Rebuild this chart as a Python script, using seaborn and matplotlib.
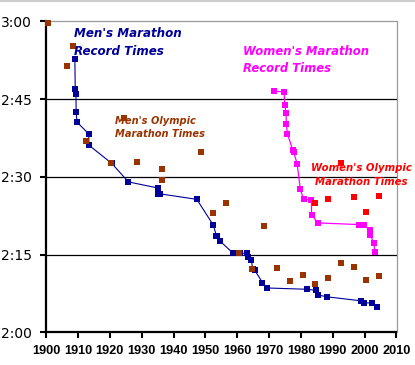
import matplotlib
matplotlib.use("Agg")
import matplotlib.pyplot as plt
import seaborn as sns
import pandas as pd
from matplotlib.ticker import FuncFormatter, MultipleLocator
from matplotlib.lines import Line2D

# ---------------- data (decimal year, h:mm:ss) ----------------
men_record_year = [1909.0, 1909.12, 1909.35, 1909.4, 1909.66, 1913.36, 1913.41,
                   1920.6, 1925.8, 1935.25, 1935.26, 1935.84, 1947.3, 1952.45,
                   1953.45, 1953.76, 1954.49, 1958.65, 1960.7, 1963.13, 1963.46,
                   1964.45, 1964.81, 1965.45, 1967.92, 1969.41, 1981.93, 1984.8,
                   1985.3, 1988.29, 1998.72, 1999.81, 2002.29, 2003.74]
men_record_time = ["2:52:45", "2:46:52", "2:46:04", "2:42:31", "2:40:34", "2:38:16",
                   "2:36:06", "2:32:35", "2:29:01", "2:27:49", "2:26:44", "2:26:42",
                   "2:25:39", "2:20:42", "2:18:40", "2:18:34", "2:17:39", "2:15:17",
                   "2:15:16", "2:15:15", "2:14:28", "2:13:55", "2:12:11", "2:12:00",
                   "2:09:36", "2:08:33", "2:08:18", "2:08:05", "2:07:12", "2:06:50",
                   "2:06:05", "2:05:42", "2:05:38", "2:04:55"]

men_olympic_year = [1900.5, 1906.5, 1908.5, 1912.5, 1920.5, 1924.5, 1928.5, 1936.5,
                    1936.5, 1948.5, 1952.5, 1956.5, 1960.5, 1964.5, 1968.5, 1972.5,
                    1976.5, 1980.5, 1984.5, 1988.5, 1992.5, 1996.5, 2000.5, 2004.5]
men_olympic_time = ["2:59:45", "2:51:23", "2:55:18", "2:36:54", "2:32:35", "2:41:22",
                    "2:32:57", "2:31:36", "2:29:19", "2:34:51", "2:23:03", "2:25:00",
                    "2:15:16", "2:12:11", "2:20:26", "2:12:19", "2:09:55", "2:11:03",
                    "2:09:21", "2:10:32", "2:13:23", "2:12:36", "2:10:11", "2:10:55"]

women_record_year = [1971.6, 1974.7, 1974.9, 1975.3, 1975.4, 1975.75, 1977.35, 1977.7,
                     1978.8, 1979.8, 1980.8, 1983.3, 1983.31, 1985.3, 1998.3, 1999.7,
                     2001.7, 2001.8, 2002.8, 2003.3]
women_record_time = ["2:46:30", "2:46:24", "2:43:54", "2:42:24", "2:40:15", "2:38:19",
                     "2:35:16", "2:34:47", "2:32:30", "2:27:33", "2:25:41", "2:25:29",
                     "2:22:43", "2:21:06", "2:20:47", "2:20:43", "2:19:46", "2:18:47",
                     "2:17:18", "2:15:25"]

women_olympic_year = [1984.5, 1988.5, 1992.5, 1996.5, 2000.5, 2004.5]
women_olympic_time = ["2:24:52", "2:25:40", "2:32:41", "2:26:05", "2:23:14", "2:26:20"]

x_ticks = [1900, 1910, 1920, 1930, 1940, 1950, 1960, 1970, 1980, 1990, 2000, 2010]
y_ticks_min = [120, 135, 150, 165, 180]


def to_min(s):
    h, m, sec = s.split(":")
    return int(h) * 60 + int(m) + int(sec) / 60.0


def frame(years, times):
    return pd.DataFrame({"year": years, "minutes": [to_min(t) for t in times]})


men_rec = frame(men_record_year, men_record_time)
men_oly = frame(men_olympic_year, men_olympic_time)
wom_rec = frame(women_record_year, women_record_time)
wom_oly = frame(women_olympic_year, women_olympic_time)

# ---------------- style ----------------
sns.set_style("white")
plt.rcParams["font.family"] = ["DejaVu Sans"]

NAVY = "#000099"
BROWN = "#993300"
MAGENTA = "#FF00FF"
RED = "#FF0000"

W, H = 415, 365
fig = plt.figure(figsize=(W / 100, H / 100), dpi=100)
L, R, T, B = 46.2, 396.5, 21.3, 332.3
ax = fig.add_axes([L / W, 1 - B / H, (R - L) / W, (B - T) / H])

ms = 4.4
sns.lineplot(data=men_rec, x="year", y="minutes", ax=ax, sort=False, estimator=None,
             color=NAVY, lw=0.8, marker="s", markersize=ms, markeredgewidth=0, zorder=3)
sns.lineplot(data=wom_rec, x="year", y="minutes", ax=ax, sort=False, estimator=None,
             color=MAGENTA, lw=0.9, marker="s", markersize=ms, markeredgewidth=0, zorder=3)
sns.scatterplot(data=men_oly, x="year", y="minutes", ax=ax, color=BROWN, marker="s",
                s=ms ** 2, linewidth=0, zorder=4, clip_on=False)
sns.scatterplot(data=wom_oly, x="year", y="minutes", ax=ax, color=RED, marker="s",
                s=ms ** 2, linewidth=0, zorder=4, clip_on=False)

ax.set_xlim(1900, 2010)
ax.set_ylim(120, 180)
ax.set_xticks(x_ticks)
ax.set_yticks(y_ticks_min)
ax.yaxis.set_major_formatter(FuncFormatter(lambda v, p: f"{int(v) // 60}:{int(v) % 60:02d}"))
ax.set_xlabel("")
ax.set_ylabel("")

# gridlines (not at the top border)
for v in y_ticks_min[1:-1]:
    ax.axhline(v, color="black", lw=0.9, zorder=1)

for side in ["left", "bottom"]:
    ax.spines[side].set_color("black")
    ax.spines[side].set_linewidth(1.6)
for side in ["top", "right"]:
    ax.spines[side].set_color("#9a9a9a")
    ax.spines[side].set_linewidth(0.9)

ax.tick_params(axis="y", direction="out", length=4, width=1.5, pad=6, labelsize=10,
               left=True, colors="black")
ax.tick_params(axis="x", direction="out", length=4, width=1.5, pad=5, bottom=True,
               colors="black")
for lab in ax.get_xticklabels():
    lab.set_fontfamily(["Liberation Sans", "DejaVu Sans"])
    lab.set_fontweight("bold")
    lab.set_fontsize(9.2)

# ---------------- annotations ----------------
def px(xp, yp):
    return (xp - L) / (R - L), (B - yp) / (B - T)


def label(xp, yp, s, color, size, ha="left"):
    fx, fy = px(xp, yp)
    ax.text(fx, fy, s, transform=ax.transAxes, color=color, fontsize=size,
            fontweight="bold", fontstyle="italic", ha=ha, va="baseline", zorder=5)


label(74, 37.3, "Men's Marathon", NAVY, 8.6)
label(74, 55, "Record Times", NAVY, 8.6)
label(243.3, 55, "Women's Marathon", MAGENTA, 8.4)
label(243.3, 72.3, "Record Times", MAGENTA, 8.4)
label(115, 124, "Men's Olympic", BROWN, 7.1)
label(115, 137.3, "Marathon Times", BROWN, 7.1)
label(361.5, 170.7, "Women's Olympic", RED, 7.3, ha="center")
label(361.5, 185, "Marathon Times", RED, 7.3, ha="center")

fig.add_artist(Line2D([0, 1], [1 - 0.8 / H, 1 - 0.8 / H], transform=fig.transFigure,
                      color="#cccccc", lw=1.5))

fig.savefig("out.png", dpi=100, facecolor="white")
